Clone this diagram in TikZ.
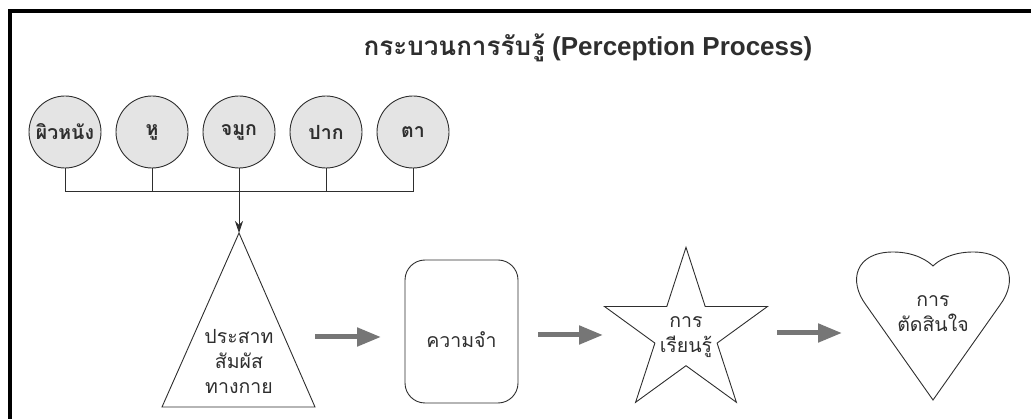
\documentclass[tikz,border=0pt]{standalone}
\usepackage{fontspec}
\setmainfont{Liberation Sans}
\newfontfamily\thaifont[Script=Thai]{Loma}
\usetikzlibrary{arrows.meta}
\definecolor{ink}{HTML}{2E2E2E}
\definecolor{circfill}{HTML}{E4E4E4}
\definecolor{arrowgray}{HTML}{767676}
\tikzset{
  sense/.style={circle, draw=ink, line width=0.9pt, fill=circfill, minimum size=72pt, inner sep=0pt, text=ink, font=\thaifont\bfseries\fontsize{19.5}{22}\selectfont},
  shapeline/.style={draw=ink, line width=0.9pt},
  label/.style={text=ink, align=center, inner sep=0pt, font=\thaifont\fontsize{19.5}{25}\selectfont},
  bus/.style={draw=ink, line width=0.8pt},
  bigarrow/.style={draw=arrowgray, line width=5pt, -{Triangle[length=24pt, width=18pt]}},
}
\begin{document}
\begin{tikzpicture}[x=1pt, y=-1pt]
\useasboundingbox (0,0) rectangle (1031,419);
% frame
\draw[line width=4pt, black] (10,440) -- (10,11) -- (1050,11);
% title
\node[text=ink, inner sep=0pt] (title) at (588,48) {\fontsize{26}{30}\selectfont{\thaifont\bfseries กระบวนการรับรู้} \bfseries (Perception Process)};
% sense circles
\node[sense] (skin)  at (65,132)  {ผิวหนัง};
\node[sense] (ear)   at (152,132) {หู};
\node[sense] (nose)  at (239,132) {จมูก};
\node[sense] (mouth) at (326,132) {ปาก};
\node[sense] (eye)   at (413,132) {ตา};
\coordinate (busy) at (0,191);
\draw[bus] (skin.south) -- (skin.south |- busy) -- (eye.south |- busy) -- (eye.south);
\draw[bus] (ear.south) -- (ear.south |- busy);
\draw[bus] (mouth.south) -- (mouth.south |- busy);
% triangle
\coordinate (apex) at (239,233);
\draw[shapeline, line join=miter] (apex) -- (315,407) -- (162,407) -- cycle;
\node[label] (nerve) at (239,362) {ประสาท\\สัมผัส\\ทางกาย};
\draw[bus, -{Stealth[length=12pt, width=8pt]}, draw=ink, fill=ink] (nose.south) -- (apex);
% memory
\node[draw=ink, line width=0.9pt, rounded corners=20pt, minimum width=113pt, minimum height=143pt] (membox) at (461.5,331.5) {};
\node[label] (mem) at (461.5,340) {ความจำ};
% star
\draw[shapeline, line join=miter] (686,247.3) -- (666.8,306.5) -- (604.5,306.5) -- (654.9,343.1) -- (635.6,402.3) -- (686,365.7) -- (736.4,402.3) -- (717.1,343.1) -- (767.5,306.5) -- (705.2,306.5) -- cycle;
\node[label] (learn) at (686,337) {การ\\เรียนรู้};
% heart
\draw[shapeline] (933,400) -- (866,305) .. controls (848,281) and (855,252) .. (893,252) .. controls (915,252) and (928,261) .. (933,266) .. controls (938,261) and (951,252) .. (973,252) .. controls (1011,252) and (1018,281) .. (1000,305) -- cycle;
\node[label] (decide) at (933,314) {การ\\ตัดสินใจ};
% big arrows
\coordinate (a1s) at (315,337); \coordinate (a1e) at (381,337);
\coordinate (a2s) at (538,335); \coordinate (a2e) at (603,335);
\coordinate (a3s) at (777,333); \coordinate (a3e) at (842,333);
\draw[bigarrow] (a1s) -- (a1e);
\draw[bigarrow] (a2s) -- (a2e);
\draw[bigarrow] (a3s) -- (a3e);
\end{tikzpicture}
\end{document}
